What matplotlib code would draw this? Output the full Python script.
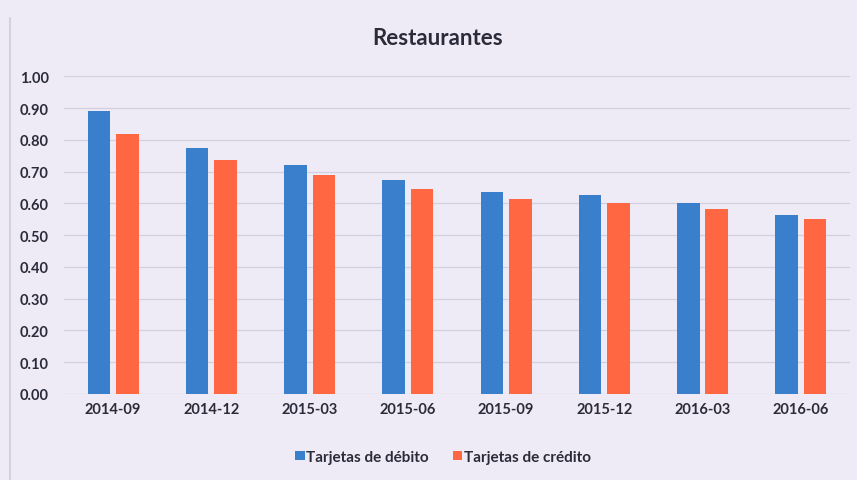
import matplotlib
matplotlib.use("Agg")
import matplotlib.pyplot as plt
import numpy as np

# ---------------- Data ----------------
periods = ["2014-09", "2014-12", "2015-03", "2015-06",
           "2015-09", "2015-12", "2016-03", "2016-06"]
debito = [0.89, 0.776, 0.721, 0.674, 0.635, 0.627, 0.600, 0.564]
credito = [0.818, 0.737, 0.690, 0.644, 0.613, 0.602, 0.581, 0.551]
yticks = [0.0, 0.1, 0.2, 0.3, 0.4, 0.5, 0.6, 0.7, 0.8, 0.9, 1.0]

BG = "#eeebf6"
BLUE = "#3a7fcb"
ORANGE = "#fe6741"
TXT = "#2b2b3a"

plt.rcParams['font.family'] = ['Lato', 'DejaVu Sans']

fig = plt.figure(figsize=(8.57, 4.81), dpi=100, facecolor=BG)
ax = fig.add_axes([0.0747, 0.179, 0.917, 0.660])
ax.set_facecolor(BG)

x = np.arange(len(periods))
w = 0.23
ax.bar(x - 0.145, debito, w, color=BLUE, label="Tarjetas de débito", zorder=3)
ax.bar(x + 0.145, credito, w, color=ORANGE, label="Tarjetas de crédito", zorder=3)

ax.set_xlim(-0.5, len(periods) - 0.5)
ax.set_ylim(0, 1.0)
ax.set_yticks(yticks)
ax.set_yticklabels([f"{v:.2f}" for v in yticks])
ax.set_xticks(x)
ax.set_xticklabels(periods)
ax.grid(axis='y', color="#d2cfe0", linewidth=0.9, zorder=0)
for s in ax.spines.values():
    s.set_visible(False)
ax.tick_params(axis='both', length=0, colors=TXT, labelsize=10.5)
ax.tick_params(axis='x', pad=6)
ax.tick_params(axis='y', pad=11)
for lab in ax.get_xticklabels() + ax.get_yticklabels():
    lab.set_fontweight('bold')

fig.text(0.51, 0.919, "Restaurantes", ha='center', va='center',
         fontsize=16, fontweight='bold', color=TXT)

leg = fig.legend(loc='center', bbox_to_anchor=(0.517, 0.048), ncol=2, frameon=False,
                 handlelength=0.6, handleheight=0.6, handletextpad=0.1,
                 columnspacing=1.6, prop={'size': 11, 'weight': 'bold'})
for t in leg.get_texts():
    t.set_color(TXT)

# faint frame line on the left like the screenshot
fig.add_artist(plt.Line2D([0.012, 0.012], [0.0, 0.96], color="#c9cfd6", linewidth=1.2))

fig.savefig("out.png", dpi=100, facecolor=BG)
